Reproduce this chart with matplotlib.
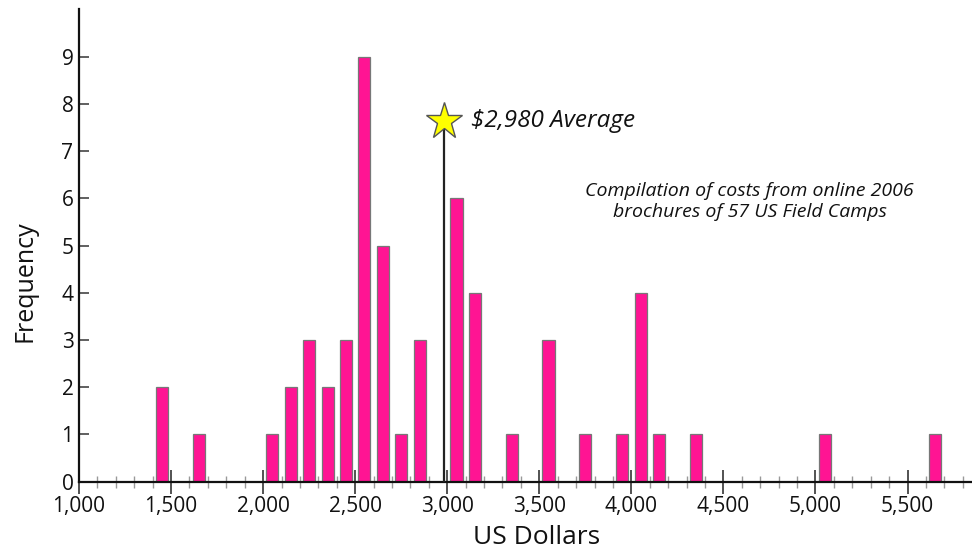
import numpy as np
import matplotlib.pyplot as plt
from matplotlib.ticker import MultipleLocator, FixedLocator, FuncFormatter

# bins of $100 (left edge) and number of camps in each
bin_starts = [1400, 1600, 2000, 2100, 2200, 2300, 2400, 2500, 2600, 2700, 2800,
              3000, 3100, 3300, 3500, 3700, 3900, 4000, 4100, 4300, 5000, 5600]
counts = [2, 1, 1, 2, 3, 2, 3, 9, 5, 1, 3,
          6, 4, 1, 3, 1, 1, 4, 1, 1, 1, 1]
average_cost = 2980
average_height = 7.63

plt.rcParams['font.family'] = ['Open Sans', 'DejaVu Sans']

fig = plt.figure(figsize=(9.72, 5.5), dpi=100)
ax = fig.add_axes([0.0813, 0.1242, 0.9187, 0.8588])

centers = np.array(bin_starts) + 50
ax.bar(centers, counts, width=66, color='#ff1493', edgecolor='#777777', linewidth=0.9, zorder=2)

# average marker
ax.plot([average_cost, average_cost], [0, average_height], color='#222222', lw=1.6, zorder=3)
ax.plot(average_cost, average_height, marker='*', markersize=28, color='#ffff00',
        markeredgecolor='#555555', markeredgewidth=1.0, zorder=4, clip_on=False)
ax.text(average_cost + 150, average_height, '$2,980 Average', fontsize=17.5, style='italic',
        va='center', ha='left', color='#111111')

ax.text(4643, 5.93, 'Compilation of costs from online 2006\nbrochures of 57 US Field Camps',
        fontsize=14, style='italic', ha='center', va='center', color='#111111', linespacing=1.2)

ax.set_xlim(1000, 5850)
ax.set_ylim(0, 10)

for s in ['top', 'right']:
    ax.spines[s].set_visible(False)
for s in ['left', 'bottom']:
    ax.spines[s].set_linewidth(1.6)
    ax.spines[s].set_color('#111111')

ax.xaxis.set_major_locator(MultipleLocator(500))
ax.xaxis.set_minor_locator(MultipleLocator(100))
ax.xaxis.set_major_formatter(FuncFormatter(lambda v, p: f'{int(v):,}'))
ax.yaxis.set_major_locator(FixedLocator(range(0, 10)))

ax.tick_params(axis='x', which='major', direction='inout', length=17, width=1.3,
               color='#444444', labelsize=15, pad=2, labelcolor='#111111')
ax.tick_params(axis='x', which='minor', direction='inout', length=9, width=1.0, color='#999999')
ax.tick_params(axis='y', which='major', direction='in', length=7, width=1.2,
               color='#444444', labelsize=15, pad=4, labelcolor='#111111')

ax.set_xlabel('US Dollars', fontsize=19, color='#111111')
ax.xaxis.set_label_coords(0.512, -0.092)
ax.set_ylabel('Frequency', fontsize=18, color='#111111')
ax.yaxis.set_label_coords(-0.047, 0.425)

fig.savefig('out.png', dpi=100)
